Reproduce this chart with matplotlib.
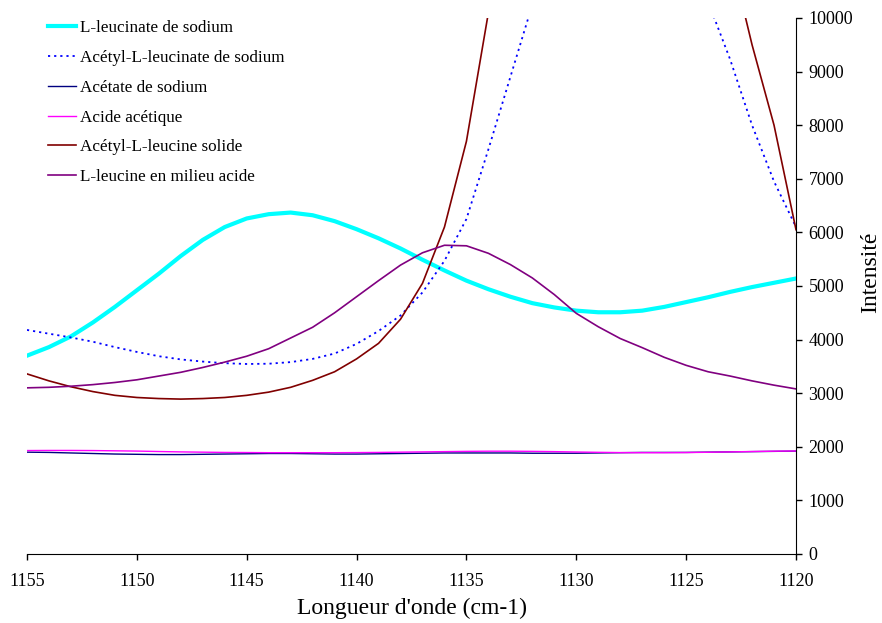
import matplotlib.pyplot as plt

plt.rcParams['font.family'] = ['Liberation Serif', 'DejaVu Serif']

# longueurs d'onde (cm-1), pas de 1
wavenumbers = [1155, 1154, 1153, 1152, 1151, 1150, 1149, 1148, 1147, 1146, 1145, 1144,
               1143, 1142, 1141, 1140, 1139, 1138, 1137, 1136, 1135, 1134, 1133, 1132,
               1131, 1130, 1129, 1128, 1127, 1126, 1125, 1124, 1123, 1122, 1121, 1120]

leucinate_na = [3700, 3860, 4060, 4320, 4610, 4920, 5230, 5560, 5860, 6100, 6260, 6340,
                6370, 6320, 6210, 6060, 5890, 5700, 5490, 5290, 5100, 4940, 4800, 4680,
                4600, 4540, 4510, 4510, 4540, 4610, 4700, 4790, 4890, 4980, 5060, 5140]

acetyl_leucinate_na = [4180, 4110, 4040, 3960, 3860, 3770, 3690, 3630, 3590, 3560, 3545, 3550,
                       3580, 3640, 3740, 3920, 4160, 4450, 4880, 5470, 6250, 7550, 8900, 10250,
                       12000, 13500, 14500, 15000, 14600, 13500, 12000, 10300, 9230, 8000, 6950, 6100]

acetate_na = [1900, 1895, 1885, 1875, 1865, 1860, 1855, 1855, 1860, 1865, 1870, 1875,
              1875, 1870, 1865, 1865, 1870, 1875, 1880, 1885, 1885, 1885, 1885, 1880,
              1880, 1880, 1885, 1890, 1895, 1895, 1895, 1900, 1905, 1910, 1915, 1920]

acide_acetique = [1930, 1932, 1932, 1930, 1925, 1920, 1912, 1905, 1900, 1895, 1893, 1890,
                  1890, 1890, 1890, 1892, 1895, 1900, 1905, 1910, 1915, 1918, 1918, 1915,
                  1910, 1903, 1897, 1892, 1890, 1890, 1893, 1898, 1905, 1912, 1918, 1922]

acetyl_leucine_solide = [3360, 3230, 3120, 3030, 2960, 2920, 2900, 2890, 2900, 2920, 2960, 3020,
                         3110, 3240, 3400, 3640, 3930, 4380, 5050, 6100, 7700, 10100, 13500, 19000,
                         25000, 29000, 31000, 30000, 27000, 21000, 16000, 13200, 11200, 9500, 8000, 6050]

leucine_acide = [3100, 3110, 3130, 3160, 3200, 3250, 3320, 3390, 3480, 3580, 3690, 3830,
                 4030, 4230, 4500, 4800, 5100, 5390, 5620, 5760, 5750, 5610, 5400, 5150,
                 4840, 4490, 4240, 4020, 3850, 3670, 3520, 3400, 3320, 3230, 3150, 3080]

fig = plt.figure(figsize=(8.82, 6.23), dpi=100)
ax = fig.add_axes([27 / 882, 1 - 554 / 623, (796 - 27) / 882, (554 - 18) / 623])

ax.plot(wavenumbers, leucinate_na, color='#00FFFF', lw=3.0, label='L-leucinate de sodium')
ax.plot(wavenumbers, acetyl_leucinate_na, color='#0000FF', lw=1.3, ls=(0, (1.2, 2.2)),
        label='Acétyl-L-leucinate de sodium')
ax.plot(wavenumbers, acetate_na, color='#000080', lw=1.0, label='Acétate de sodium')
ax.plot(wavenumbers, acide_acetique, color='#FF00FF', lw=1.0, label='Acide acétique')
ax.plot(wavenumbers, acetyl_leucine_solide, color='#800000', lw=1.2, label='Acétyl-L-leucine solide')
ax.plot(wavenumbers, leucine_acide, color='#800080', lw=1.2, label='L-leucine en milieu acide')

ax.set_xlim(1155, 1120)
ax.set_ylim(0, 10000)
ax.set_xticks(range(1155, 1119, -5))
ax.set_yticks(range(0, 10001, 1000))

for s in ['top', 'left']:
    ax.spines[s].set_visible(False)
ax.yaxis.tick_right()
ax.yaxis.set_label_position('right')
ax.tick_params(axis='both', direction='out', labelsize=13, width=1)
ax.tick_params(axis='x', length=4.5, pad=9)
ax.tick_params(axis='y', length=4, pad=5)

ax.set_xlabel("Longueur d'onde (cm-1)", fontsize=17, labelpad=6)
ax.set_ylabel('Intensité', fontsize=17, labelpad=6)
ax.yaxis.set_label_coords(1.083, (554 - 272) / 536)

ax.legend(loc='upper left', bbox_to_anchor=(47.5 / 882, 1 - 20 / 623),
          bbox_transform=fig.transFigure, frameon=False, fontsize=12.3,
          handlelength=1.65, handletextpad=0.28, labelspacing=0.81,
          borderpad=0, borderaxespad=0)

fig.savefig('out.png', dpi=100)
